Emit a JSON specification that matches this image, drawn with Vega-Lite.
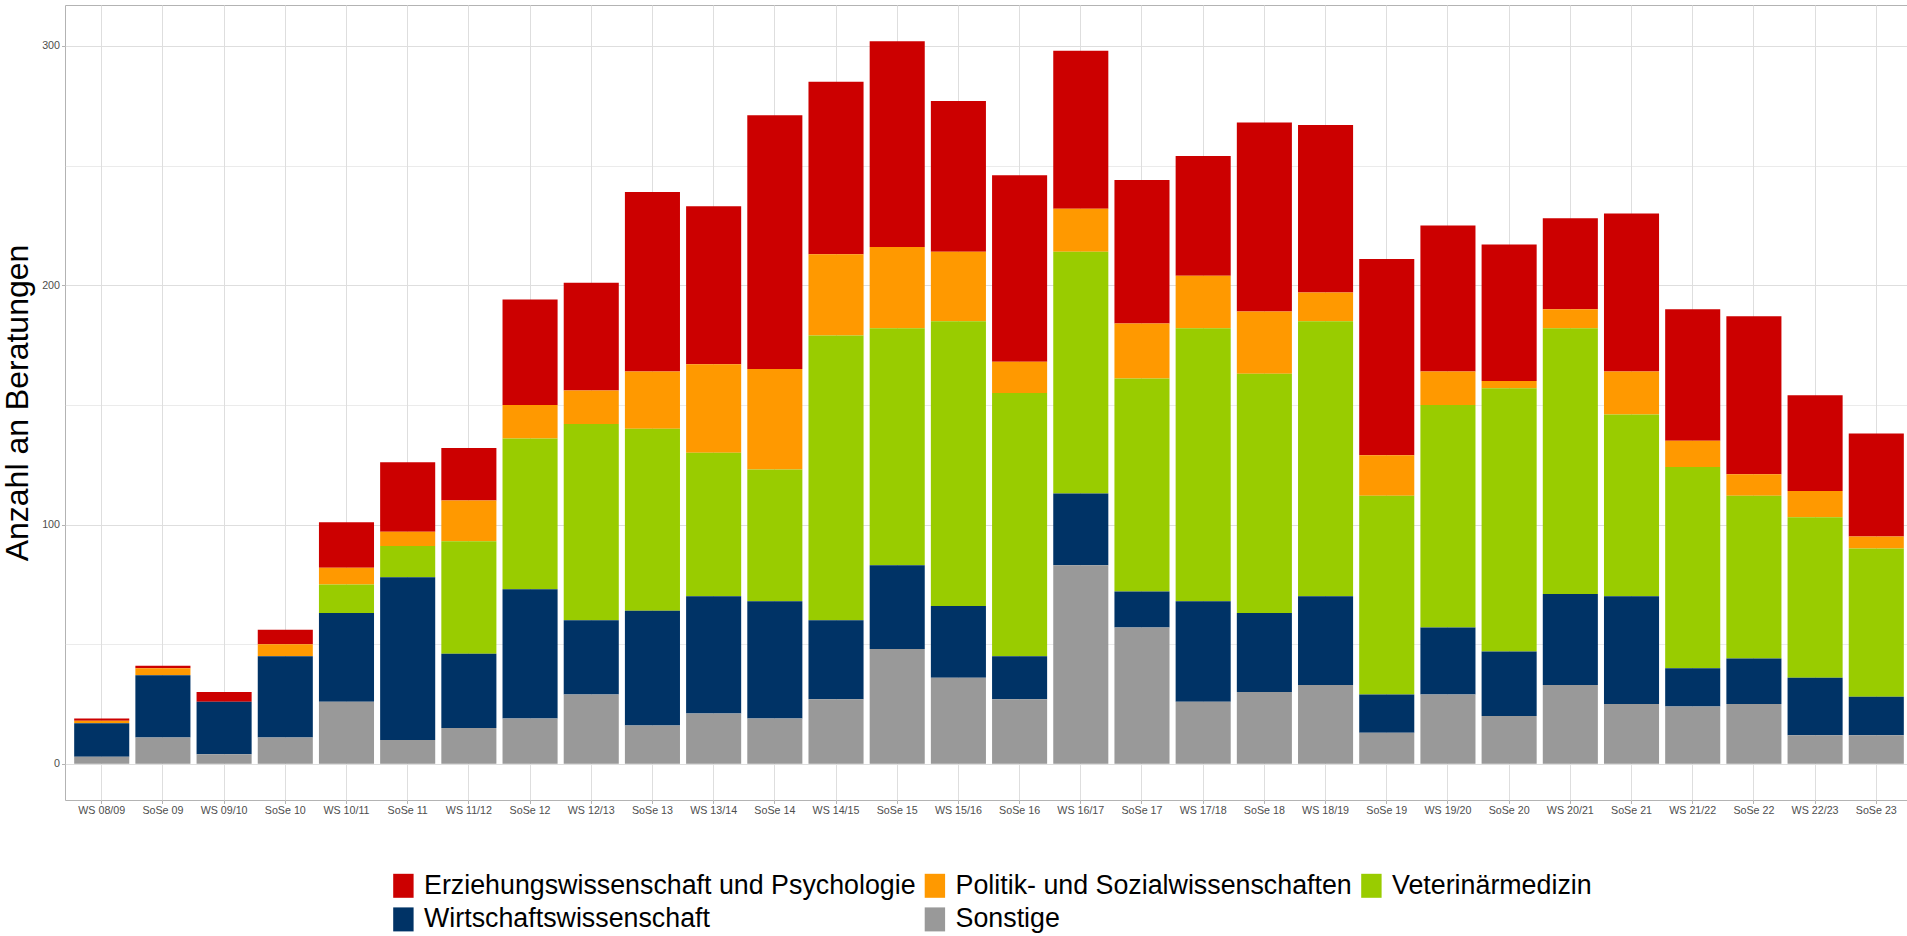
{
  "$schema": "https://vega.github.io/schema/vega-lite/v6.json",
  "autosize": {"type": "none"},
  "width": 1842,
  "height": 795,
  "padding": {"left": 65, "top": 5, "right": 0, "bottom": 136},
  "background": "white",
  "config": {
    "view": {"stroke": "#B3B3B3", "strokeWidth": 1},
    "font": "Liberation Sans"
  },
  "data": {"values": [
    {"Semester":"WS 08/09","Fach":"Erziehungswissenschaft und Psychologie","Anzahl":1},
    {"Semester":"WS 08/09","Fach":"Politik- und Sozialwissenschaften","Anzahl":1},
    {"Semester":"WS 08/09","Fach":"Wirtschaftswissenschaft","Anzahl":14},
    {"Semester":"WS 08/09","Fach":"Sonstige","Anzahl":3},
    {"Semester":"SoSe 09","Fach":"Erziehungswissenschaft und Psychologie","Anzahl":1},
    {"Semester":"SoSe 09","Fach":"Politik- und Sozialwissenschaften","Anzahl":3},
    {"Semester":"SoSe 09","Fach":"Wirtschaftswissenschaft","Anzahl":26},
    {"Semester":"SoSe 09","Fach":"Sonstige","Anzahl":11},
    {"Semester":"WS 09/10","Fach":"Erziehungswissenschaft und Psychologie","Anzahl":4},
    {"Semester":"WS 09/10","Fach":"Wirtschaftswissenschaft","Anzahl":22},
    {"Semester":"WS 09/10","Fach":"Sonstige","Anzahl":4},
    {"Semester":"SoSe 10","Fach":"Erziehungswissenschaft und Psychologie","Anzahl":6},
    {"Semester":"SoSe 10","Fach":"Politik- und Sozialwissenschaften","Anzahl":5},
    {"Semester":"SoSe 10","Fach":"Wirtschaftswissenschaft","Anzahl":34},
    {"Semester":"SoSe 10","Fach":"Sonstige","Anzahl":11},
    {"Semester":"WS 10/11","Fach":"Erziehungswissenschaft und Psychologie","Anzahl":19},
    {"Semester":"WS 10/11","Fach":"Politik- und Sozialwissenschaften","Anzahl":7},
    {"Semester":"WS 10/11","Fach":"Veterinärmedizin","Anzahl":12},
    {"Semester":"WS 10/11","Fach":"Wirtschaftswissenschaft","Anzahl":37},
    {"Semester":"WS 10/11","Fach":"Sonstige","Anzahl":26},
    {"Semester":"SoSe 11","Fach":"Erziehungswissenschaft und Psychologie","Anzahl":29},
    {"Semester":"SoSe 11","Fach":"Politik- und Sozialwissenschaften","Anzahl":6},
    {"Semester":"SoSe 11","Fach":"Veterinärmedizin","Anzahl":13},
    {"Semester":"SoSe 11","Fach":"Wirtschaftswissenschaft","Anzahl":68},
    {"Semester":"SoSe 11","Fach":"Sonstige","Anzahl":10},
    {"Semester":"WS 11/12","Fach":"Erziehungswissenschaft und Psychologie","Anzahl":22},
    {"Semester":"WS 11/12","Fach":"Politik- und Sozialwissenschaften","Anzahl":17},
    {"Semester":"WS 11/12","Fach":"Veterinärmedizin","Anzahl":47},
    {"Semester":"WS 11/12","Fach":"Wirtschaftswissenschaft","Anzahl":31},
    {"Semester":"WS 11/12","Fach":"Sonstige","Anzahl":15},
    {"Semester":"SoSe 12","Fach":"Erziehungswissenschaft und Psychologie","Anzahl":44},
    {"Semester":"SoSe 12","Fach":"Politik- und Sozialwissenschaften","Anzahl":14},
    {"Semester":"SoSe 12","Fach":"Veterinärmedizin","Anzahl":63},
    {"Semester":"SoSe 12","Fach":"Wirtschaftswissenschaft","Anzahl":54},
    {"Semester":"SoSe 12","Fach":"Sonstige","Anzahl":19},
    {"Semester":"WS 12/13","Fach":"Erziehungswissenschaft und Psychologie","Anzahl":45},
    {"Semester":"WS 12/13","Fach":"Politik- und Sozialwissenschaften","Anzahl":14},
    {"Semester":"WS 12/13","Fach":"Veterinärmedizin","Anzahl":82},
    {"Semester":"WS 12/13","Fach":"Wirtschaftswissenschaft","Anzahl":31},
    {"Semester":"WS 12/13","Fach":"Sonstige","Anzahl":29},
    {"Semester":"SoSe 13","Fach":"Erziehungswissenschaft und Psychologie","Anzahl":75},
    {"Semester":"SoSe 13","Fach":"Politik- und Sozialwissenschaften","Anzahl":24},
    {"Semester":"SoSe 13","Fach":"Veterinärmedizin","Anzahl":76},
    {"Semester":"SoSe 13","Fach":"Wirtschaftswissenschaft","Anzahl":48},
    {"Semester":"SoSe 13","Fach":"Sonstige","Anzahl":16},
    {"Semester":"WS 13/14","Fach":"Erziehungswissenschaft und Psychologie","Anzahl":66},
    {"Semester":"WS 13/14","Fach":"Politik- und Sozialwissenschaften","Anzahl":37},
    {"Semester":"WS 13/14","Fach":"Veterinärmedizin","Anzahl":60},
    {"Semester":"WS 13/14","Fach":"Wirtschaftswissenschaft","Anzahl":49},
    {"Semester":"WS 13/14","Fach":"Sonstige","Anzahl":21},
    {"Semester":"SoSe 14","Fach":"Erziehungswissenschaft und Psychologie","Anzahl":106},
    {"Semester":"SoSe 14","Fach":"Politik- und Sozialwissenschaften","Anzahl":42},
    {"Semester":"SoSe 14","Fach":"Veterinärmedizin","Anzahl":55},
    {"Semester":"SoSe 14","Fach":"Wirtschaftswissenschaft","Anzahl":49},
    {"Semester":"SoSe 14","Fach":"Sonstige","Anzahl":19},
    {"Semester":"WS 14/15","Fach":"Erziehungswissenschaft und Psychologie","Anzahl":72},
    {"Semester":"WS 14/15","Fach":"Politik- und Sozialwissenschaften","Anzahl":34},
    {"Semester":"WS 14/15","Fach":"Veterinärmedizin","Anzahl":119},
    {"Semester":"WS 14/15","Fach":"Wirtschaftswissenschaft","Anzahl":33},
    {"Semester":"WS 14/15","Fach":"Sonstige","Anzahl":27},
    {"Semester":"SoSe 15","Fach":"Erziehungswissenschaft und Psychologie","Anzahl":86},
    {"Semester":"SoSe 15","Fach":"Politik- und Sozialwissenschaften","Anzahl":34},
    {"Semester":"SoSe 15","Fach":"Veterinärmedizin","Anzahl":99},
    {"Semester":"SoSe 15","Fach":"Wirtschaftswissenschaft","Anzahl":35},
    {"Semester":"SoSe 15","Fach":"Sonstige","Anzahl":48},
    {"Semester":"WS 15/16","Fach":"Erziehungswissenschaft und Psychologie","Anzahl":63},
    {"Semester":"WS 15/16","Fach":"Politik- und Sozialwissenschaften","Anzahl":29},
    {"Semester":"WS 15/16","Fach":"Veterinärmedizin","Anzahl":119},
    {"Semester":"WS 15/16","Fach":"Wirtschaftswissenschaft","Anzahl":30},
    {"Semester":"WS 15/16","Fach":"Sonstige","Anzahl":36},
    {"Semester":"SoSe 16","Fach":"Erziehungswissenschaft und Psychologie","Anzahl":78},
    {"Semester":"SoSe 16","Fach":"Politik- und Sozialwissenschaften","Anzahl":13},
    {"Semester":"SoSe 16","Fach":"Veterinärmedizin","Anzahl":110},
    {"Semester":"SoSe 16","Fach":"Wirtschaftswissenschaft","Anzahl":18},
    {"Semester":"SoSe 16","Fach":"Sonstige","Anzahl":27},
    {"Semester":"WS 16/17","Fach":"Erziehungswissenschaft und Psychologie","Anzahl":66},
    {"Semester":"WS 16/17","Fach":"Politik- und Sozialwissenschaften","Anzahl":18},
    {"Semester":"WS 16/17","Fach":"Veterinärmedizin","Anzahl":101},
    {"Semester":"WS 16/17","Fach":"Wirtschaftswissenschaft","Anzahl":30},
    {"Semester":"WS 16/17","Fach":"Sonstige","Anzahl":83},
    {"Semester":"SoSe 17","Fach":"Erziehungswissenschaft und Psychologie","Anzahl":60},
    {"Semester":"SoSe 17","Fach":"Politik- und Sozialwissenschaften","Anzahl":23},
    {"Semester":"SoSe 17","Fach":"Veterinärmedizin","Anzahl":89},
    {"Semester":"SoSe 17","Fach":"Wirtschaftswissenschaft","Anzahl":15},
    {"Semester":"SoSe 17","Fach":"Sonstige","Anzahl":57},
    {"Semester":"WS 17/18","Fach":"Erziehungswissenschaft und Psychologie","Anzahl":50},
    {"Semester":"WS 17/18","Fach":"Politik- und Sozialwissenschaften","Anzahl":22},
    {"Semester":"WS 17/18","Fach":"Veterinärmedizin","Anzahl":114},
    {"Semester":"WS 17/18","Fach":"Wirtschaftswissenschaft","Anzahl":42},
    {"Semester":"WS 17/18","Fach":"Sonstige","Anzahl":26},
    {"Semester":"SoSe 18","Fach":"Erziehungswissenschaft und Psychologie","Anzahl":79},
    {"Semester":"SoSe 18","Fach":"Politik- und Sozialwissenschaften","Anzahl":26},
    {"Semester":"SoSe 18","Fach":"Veterinärmedizin","Anzahl":100},
    {"Semester":"SoSe 18","Fach":"Wirtschaftswissenschaft","Anzahl":33},
    {"Semester":"SoSe 18","Fach":"Sonstige","Anzahl":30},
    {"Semester":"WS 18/19","Fach":"Erziehungswissenschaft und Psychologie","Anzahl":70},
    {"Semester":"WS 18/19","Fach":"Politik- und Sozialwissenschaften","Anzahl":12},
    {"Semester":"WS 18/19","Fach":"Veterinärmedizin","Anzahl":115},
    {"Semester":"WS 18/19","Fach":"Wirtschaftswissenschaft","Anzahl":37},
    {"Semester":"WS 18/19","Fach":"Sonstige","Anzahl":33},
    {"Semester":"SoSe 19","Fach":"Erziehungswissenschaft und Psychologie","Anzahl":82},
    {"Semester":"SoSe 19","Fach":"Politik- und Sozialwissenschaften","Anzahl":17},
    {"Semester":"SoSe 19","Fach":"Veterinärmedizin","Anzahl":83},
    {"Semester":"SoSe 19","Fach":"Wirtschaftswissenschaft","Anzahl":16},
    {"Semester":"SoSe 19","Fach":"Sonstige","Anzahl":13},
    {"Semester":"WS 19/20","Fach":"Erziehungswissenschaft und Psychologie","Anzahl":61},
    {"Semester":"WS 19/20","Fach":"Politik- und Sozialwissenschaften","Anzahl":14},
    {"Semester":"WS 19/20","Fach":"Veterinärmedizin","Anzahl":93},
    {"Semester":"WS 19/20","Fach":"Wirtschaftswissenschaft","Anzahl":28},
    {"Semester":"WS 19/20","Fach":"Sonstige","Anzahl":29},
    {"Semester":"SoSe 20","Fach":"Erziehungswissenschaft und Psychologie","Anzahl":57},
    {"Semester":"SoSe 20","Fach":"Politik- und Sozialwissenschaften","Anzahl":3},
    {"Semester":"SoSe 20","Fach":"Veterinärmedizin","Anzahl":110},
    {"Semester":"SoSe 20","Fach":"Wirtschaftswissenschaft","Anzahl":27},
    {"Semester":"SoSe 20","Fach":"Sonstige","Anzahl":20},
    {"Semester":"WS 20/21","Fach":"Erziehungswissenschaft und Psychologie","Anzahl":38},
    {"Semester":"WS 20/21","Fach":"Politik- und Sozialwissenschaften","Anzahl":8},
    {"Semester":"WS 20/21","Fach":"Veterinärmedizin","Anzahl":111},
    {"Semester":"WS 20/21","Fach":"Wirtschaftswissenschaft","Anzahl":38},
    {"Semester":"WS 20/21","Fach":"Sonstige","Anzahl":33},
    {"Semester":"SoSe 21","Fach":"Erziehungswissenschaft und Psychologie","Anzahl":66},
    {"Semester":"SoSe 21","Fach":"Politik- und Sozialwissenschaften","Anzahl":18},
    {"Semester":"SoSe 21","Fach":"Veterinärmedizin","Anzahl":76},
    {"Semester":"SoSe 21","Fach":"Wirtschaftswissenschaft","Anzahl":45},
    {"Semester":"SoSe 21","Fach":"Sonstige","Anzahl":25},
    {"Semester":"WS 21/22","Fach":"Erziehungswissenschaft und Psychologie","Anzahl":55},
    {"Semester":"WS 21/22","Fach":"Politik- und Sozialwissenschaften","Anzahl":11},
    {"Semester":"WS 21/22","Fach":"Veterinärmedizin","Anzahl":84},
    {"Semester":"WS 21/22","Fach":"Wirtschaftswissenschaft","Anzahl":16},
    {"Semester":"WS 21/22","Fach":"Sonstige","Anzahl":24},
    {"Semester":"SoSe 22","Fach":"Erziehungswissenschaft und Psychologie","Anzahl":66},
    {"Semester":"SoSe 22","Fach":"Politik- und Sozialwissenschaften","Anzahl":9},
    {"Semester":"SoSe 22","Fach":"Veterinärmedizin","Anzahl":68},
    {"Semester":"SoSe 22","Fach":"Wirtschaftswissenschaft","Anzahl":19},
    {"Semester":"SoSe 22","Fach":"Sonstige","Anzahl":25},
    {"Semester":"WS 22/23","Fach":"Erziehungswissenschaft und Psychologie","Anzahl":40},
    {"Semester":"WS 22/23","Fach":"Politik- und Sozialwissenschaften","Anzahl":11},
    {"Semester":"WS 22/23","Fach":"Veterinärmedizin","Anzahl":67},
    {"Semester":"WS 22/23","Fach":"Wirtschaftswissenschaft","Anzahl":24},
    {"Semester":"WS 22/23","Fach":"Sonstige","Anzahl":12},
    {"Semester":"SoSe 23","Fach":"Erziehungswissenschaft und Psychologie","Anzahl":43},
    {"Semester":"SoSe 23","Fach":"Politik- und Sozialwissenschaften","Anzahl":5},
    {"Semester":"SoSe 23","Fach":"Veterinärmedizin","Anzahl":62},
    {"Semester":"SoSe 23","Fach":"Wirtschaftswissenschaft","Anzahl":16},
    {"Semester":"SoSe 23","Fach":"Sonstige","Anzahl":12}
  ]},
  "transform": [
    {"calculate": "indexof(['Sonstige', 'Wirtschaftswissenschaft', 'Veterinärmedizin', 'Politik- und Sozialwissenschaften', 'Erziehungswissenschaft und Psychologie'], datum.Fach)", "as": "Stapelfolge"}
  ],
  "mark": {"type": "bar"},
  "encoding": {
    "x": {
      "field": "Semester",
      "type": "nominal",
      "sort": null,
      "scale": {"range": [0, 1848], "paddingInner": 0.1, "paddingOuter": 0.15},
      "axis": {
        "title": null,
        "labelAngle": 0,
        "labelFont": "Liberation Sans",
        "labelFontSize": 10.7,
        "labelColor": "#4D4D4D",
        "labelPadding": 2,
        "tickSize": 3.5,
        "tickColor": "#B3B3B3",
        "tickWidth": 1,
        "bandPosition": 0.5,
        "domain": false,
        "grid": true,
        "gridColor": "#DEDEDE",
        "gridWidth": 1
      }
    },
    "y": {
      "field": "Anzahl",
      "type": "quantitative",
      "stack": "zero",
      "scale": {"domain": [-15.1, 317.1], "nice": false, "zero": false},
      "axis": {
        "title": "Anzahl an Beratungen",
        "titleFont": "Liberation Sans",
        "titleFontSize": 32,
        "titleFontWeight": "normal",
        "titleColor": "#000000",
        "titleX": -31,
        "titleBaseline": "bottom",
        "values": [0, 50, 100, 150, 200, 250, 300],
        "labelExpr": "datum.value % 100 === 0 ? datum.label : ''",
        "labelFont": "Liberation Sans",
        "labelFontSize": 10.7,
        "labelColor": "#4D4D4D",
        "labelPadding": 2,
        "tickSize": 3.5,
        "tickColor": "#B3B3B3",
        "tickOpacity": {"condition": {"test": "datum.value % 100 === 0", "value": 1}, "value": 0},
        "domain": false,
        "grid": true,
        "gridColor": "#DEDEDE",
        "gridWidth": {"condition": {"test": "datum.value % 100 === 0", "value": 1}, "value": 0.6}
      }
    },
    "order": {"field": "Stapelfolge", "type": "quantitative", "sort": "ascending"},
    "color": {
      "field": "Fach",
      "type": "nominal",
      "sort": ["Erziehungswissenschaft und Psychologie", "Politik- und Sozialwissenschaften", "Veterinärmedizin", "Wirtschaftswissenschaft", "Sonstige"],
      "scale": {
        "domain": ["Erziehungswissenschaft und Psychologie", "Politik- und Sozialwissenschaften", "Veterinärmedizin", "Wirtschaftswissenschaft", "Sonstige"],
        "range": ["#CC0000", "#FF9900", "#99CC00", "#003366", "#999999"]
      },
      "legend": {
        "title": null,
        "orient": "none",
        "legendX": 325,
        "legendY": 867,
        "direction": "horizontal",
        "columns": 3,
        "padding": 0,
        "symbolType": "M-0.85,-1H0.85V1H-0.85Z",
        "symbolSize": 576,
        "symbolStrokeWidth": 0,
        "symbolOpacity": 1,
        "labelFont": "Liberation Sans",
        "labelFontSize": 26.8,
        "labelColor": "#000000",
        "labelOffset": 7.25,
        "labelLimit": 1000,
        "columnPadding": 5.5,
        "rowPadding": 6
      }
    }
  }
}
